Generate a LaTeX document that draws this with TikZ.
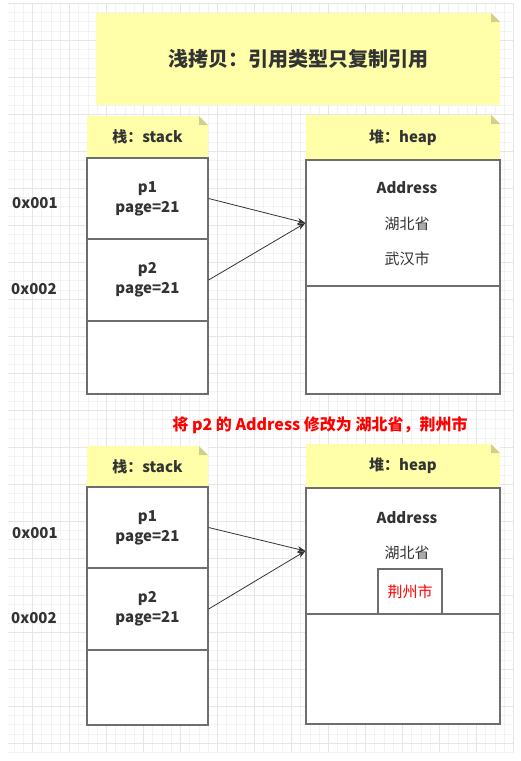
\documentclass[tikz,border=0pt]{standalone}
\usepackage{fontspec}
\setmainfont{Noto Sans CJK SC}
\usetikzlibrary{arrows.meta}

\definecolor{notefill}{HTML}{FFFFAA}
\definecolor{foldfill}{HTML}{D0D08C}
\definecolor{boxline}{HTML}{6E6E6E}
\definecolor{txt}{HTML}{333333}
\definecolor{gridminor}{HTML}{F3F3F3}
\definecolor{gridmajor}{HTML}{E6E6E6}

\begin{document}
\begin{tikzpicture}[x=1pt, y=-1pt,
    note/.style={fill=notefill, text=txt, inner sep=0pt, font=\bfseries\fontsize{15}{18}\selectfont,
      path picture={
        \fill[white] (path picture bounding box.north east) -- ++(-9pt,0pt) -- ++(9pt,-9pt) -- cycle;
        \fill[foldfill] (path picture bounding box.north east) ++(-9pt,0pt) -- ++(0pt,-9pt) -- ++(9pt,0pt) -- cycle;}},
    cell/.style={draw=boxline, line width=1.2pt, fill=white, inner sep=0pt, minimum width=121, align=center, text=txt, font=\bfseries\fontsize{15}{20}\selectfont},
    heapcell/.style={draw=boxline, line width=1.2pt, fill=white, inner sep=0pt, minimum width=194},
    addr/.style={text=txt, font=\bfseries\fontsize{15}{18}\selectfont},
    field/.style={text=txt, font=\fontsize{15}{18}\selectfont},
    arr/.style={-{Stealth[length=8pt, width=6pt]}, draw=txt, line width=0.8pt}
]
\useasboundingbox (0,0) rectangle (520,761);
\fill[white] (0,0) rectangle (520,761);
% background grid
\foreach \i in {-2,...,52} \draw[gridminor, line width=0.5pt] ({32.3+9.25*\i},3) -- ({32.3+9.25*\i},752);
\foreach \j in {-4,...,77} \draw[gridminor, line width=0.5pt] (8,{40+9.25*\j}) -- (514,{40+9.25*\j});
\foreach \i in {0,...,13} \draw[gridmajor, line width=0.6pt] ({32.3+37*\i},3) -- ({32.3+37*\i},752);
\foreach \j in {-1,...,19} \draw[gridmajor, line width=0.6pt] (8,{40+37*\j}) -- (514,{40+37*\j});

\node[note, minimum width=404, minimum height=92, font=\bfseries\fontsize{20}{24}\selectfont] (title) at (298,59) {浅拷贝：引用类型只复制引用};

% before the change
\node[note, minimum width=121, minimum height=42] (stack1) at (147.5,137) {栈：stack};
\node[cell, minimum height=81] (p1a) at (147.5,198.5) {p1\\page=21};
\node[cell, minimum height=82] (p2a) at (147.5,280) {p2\\page=21};
\node[cell, minimum height=73] (resta) at (147.5,357.5) {};
\node[addr] (a1a) at (35,203) {0x001};
\node[addr] (a2a) at (34,289) {0x002};

\node[note, minimum width=194, minimum height=45] (heap1) at (403,137.5) {堆：heap};
\node[heapcell, minimum height=126] (obja) at (403,223) {};
\node[heapcell, minimum height=108] (frea) at (403,340) {};
\node[addr] (adra) at (407,188) {Address};
\node[field] (prova) at (407,224) {湖北省};
\node[field] (citya) at (407,259) {武汉市};

\draw[arr] (p1a.east) -- (obja.west);
\draw[arr] (p2a.east) -- (obja.west);

\node[text=red, font=\bfseries\fontsize{16}{19}\selectfont] (change) at (320,425) {将 p2 的 Address 修改为 湖北省，荆州市};

% after the change
\node[note, minimum width=121, minimum height=41] (stack2) at (147.5,466.5) {栈：stack};
\node[cell, minimum height=81] (p1b) at (147.5,527.5) {p1\\page=21};
\node[cell, minimum height=82] (p2b) at (147.5,609) {p2\\page=21};
\node[cell, minimum height=75] (restb) at (147.5,687.5) {};
\node[addr] (a1b) at (35,533) {0x001};
\node[addr] (a2b) at (34,618) {0x002};

\node[note, minimum width=194, minimum height=44] (heap2) at (403,466) {堆：heap};
\node[heapcell, minimum height=126] (objb) at (403,551) {};
\node[heapcell, minimum height=110] (freb) at (403,669) {};
\node[addr] (adrb) at (407,518) {Address};
\node[field] (provb) at (407,553) {湖北省};
\node[draw=boxline, line width=1.2pt, fill=white, inner sep=0pt, minimum width=64, minimum height=45, text=red, font=\fontsize{15}{18}\selectfont] (cityb) at (410,591.5) {荆州市};

\draw[arr] (p1b.east) -- (objb.west);
\draw[arr] (p2b.east) -- (objb.west);
\end{tikzpicture}
\end{document}
